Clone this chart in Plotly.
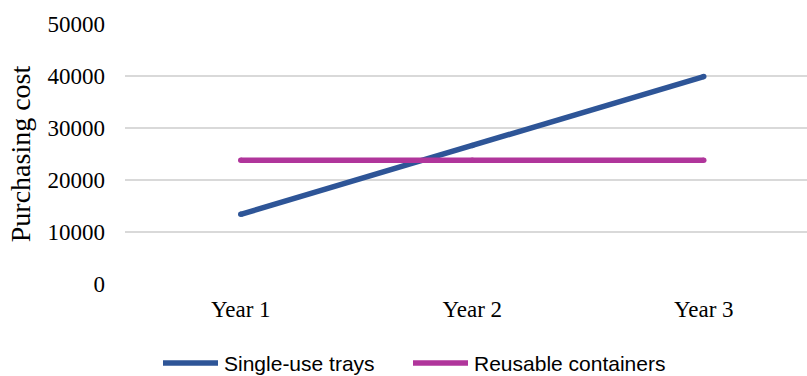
import plotly.graph_objects as go

# Purchasing cost per year for the two packaging options
years = ["Year 1", "Year 2", "Year 3"]
single_use_trays = [13400, 26650, 39900]
reusable_containers = [23800, 23800, 23800]
series_names = ["Single-use trays", "Reusable containers"]
series_colors = ["#2E5597", "#B0359B"]
y_ticks = [0, 10000, 20000, 30000, 40000, 50000]

W, H = 807, 376
M_L, M_R, M_T, M_B = 125, 0, 24, 92
plot_h = H - M_T - M_B
LINE_W = 5.5
SERIF = "Liberation Serif, Times New Roman, serif"

fig = go.Figure()
for name, vals, col in zip(series_names, [single_use_trays, reusable_containers], series_colors):
    fig.add_trace(go.Scatter(
        x=years, y=vals, name=name, mode="lines+markers",
        line=dict(color=col, width=LINE_W),
        # small round markers give the line ends rounded caps
        marker=dict(color=col, size=LINE_W, line=dict(width=0)),
    ))

# Custom legend row below the plot (line sample + label)
legend_y_px = 363
ly = (H - M_B - legend_y_px) / plot_h
legend_items = [(163, 218, 222), (413, 468, 472)]
plot_w = W - M_L - M_R
for (x0, x1, tx), name, col in zip(legend_items, series_names, series_colors):
    fig.add_shape(type="line", xref="paper", yref="paper",
                  x0=(x0 - M_L) / plot_w, x1=(x1 - M_L) / plot_w, y0=ly, y1=ly,
                  line=dict(color=col, width=LINE_W))
    fig.add_annotation(xref="paper", yref="paper", x=(tx - M_L) / plot_w, y=ly,
                       text=name, showarrow=False, xanchor="left", yanchor="middle",
                       font=dict(family="Liberation Sans, Arial, sans-serif", size=21, color="#000000"))

fig.update_layout(
    width=W, height=H,
    margin=dict(l=M_L, r=M_R, t=M_T, b=M_B, pad=0),
    paper_bgcolor="white", plot_bgcolor="white",
    showlegend=False,
    font=dict(family=SERIF, size=23, color="#000000"),
)
fig.update_xaxes(
    range=[-0.5, 2.446], showgrid=False, zeroline=False, showline=False,
    ticks="", ticklabelstandoff=9,
    tickfont=dict(family=SERIF, size=23),
)
fig.update_yaxes(
    range=[0, 50000], tickvals=y_ticks, ticktext=[str(v) for v in y_ticks],
    showgrid=True, gridcolor="#D9D9D9", gridwidth=1.5,
    zeroline=False, showline=False, ticks="", ticklabelstandoff=19,
    tickfont=dict(family=SERIF, size=23),
    title=dict(text="Purchasing cost", standoff=8,
               font=dict(family=SERIF, size=28)),
)

fig.write_html("out.html")
